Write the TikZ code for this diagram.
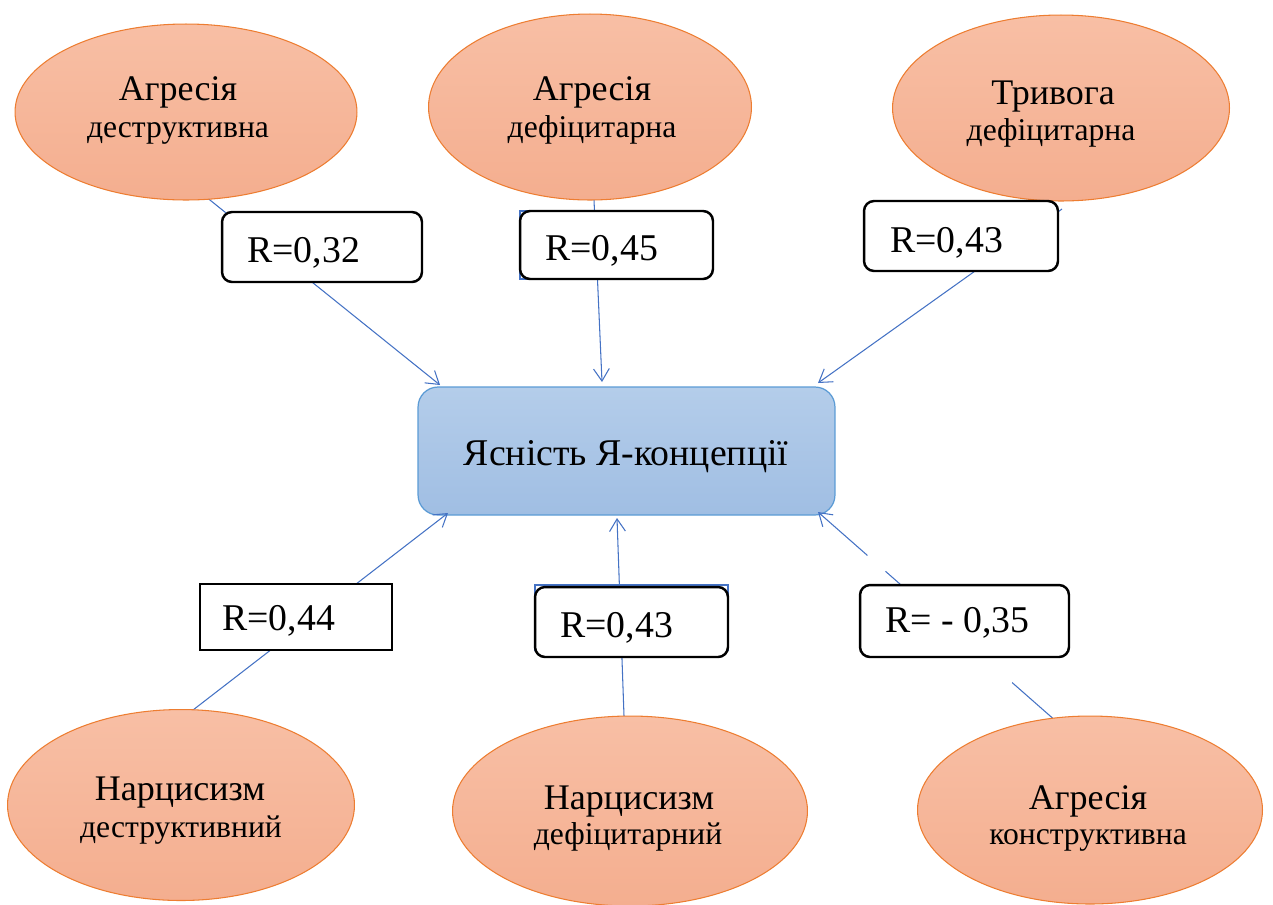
\documentclass[tikz,border=0pt]{standalone}
\usepackage{fontspec}
\setmainfont{Liberation Serif}
\usetikzlibrary{shapes.geometric,arrows.meta}
\definecolor{elfillT}{HTML}{F8BFA5}
\definecolor{elfillB}{HTML}{F4AE8F}
\definecolor{elline}{HTML}{ED7D31}
\definecolor{cfillT}{HTML}{B4CDEA}
\definecolor{cfillB}{HTML}{A0BEE3}
\definecolor{cline}{HTML}{5B9BD5}
\definecolor{conn}{HTML}{4472C4}
\begin{document}
\begin{tikzpicture}[x=0.02cm,y=-0.02cm,
  oval/.style={ellipse,draw=elline,line width=0.6pt,top color=elfillT,bottom color=elfillB,inner sep=0pt},
  bigtxt/.style={anchor=base,font=\fontsize{20.5}{24}\selectfont,inner sep=0pt},
  smalltxt/.style={anchor=base,font=\fontsize{18}{21}\selectfont,inner sep=0pt},
  rbox/.style={draw=black,line width=1.4pt,fill=white,rounded corners=0.2cm,inner sep=0pt},
  sbox/.style={draw=black,line width=1.4pt,fill=white,inner sep=0pt},
  bluebg/.style={draw=conn,line width=0.9pt,fill=white,inner sep=0pt},
  rtext/.style={anchor=base west,font=\fontsize{21.5}{25}\selectfont,inner sep=0pt},
  centerbox/.style={draw=cline,line width=0.7pt,top color=cfillT,bottom color=cfillB,rounded corners=0.4cm,inner sep=0pt},
  link/.style={draw=conn,line width=0.6pt,-{Straight Barb[length=7pt,width=9pt,line width=0.6pt]}},
]
\useasboundingbox (0,0) rectangle (1273,904);

% central box
\node[centerbox,minimum width=8.34cm,minimum height=2.56cm] (c) at (626.5,451) {};
\node[anchor=base,font=\fontsize{21.5}{26}\selectfont,inner sep=0pt] (ct) at (626,465) {Ясність Я-концепції};

% connector end points
\coordinate (s1) at (200,192);   \coordinate (t1) at (440,385);
\coordinate (s2) at (594,200);   \coordinate (t2) at (602,382);
\coordinate (s3) at (1062,209);  \coordinate (t3) at (818,383);
\coordinate (s4) at (193,710);   \coordinate (t4) at (448,513);
\coordinate (s5) at (624,716);   \coordinate (t5) at (617,518);
\coordinate (s6) at (1057,722);  \coordinate (t6) at (818,512);

\draw[link] (s1) -- (t1);
\draw[link] (s2) -- (t2);
\draw[link] (s3) -- (t3);
\draw[link] (s4) -- (t4);
\draw[link] (s5) -- (t5);
\draw[link,dash pattern=on 34pt off 84pt on 11.95pt off 13.66pt on 100pt off 100pt] (s6) -- (t6);

% ellipses
\node[oval,minimum width=6.84cm,minimum height=3.52cm] (e1) at (186,112) {};
\node[oval,minimum width=6.46cm,minimum height=3.72cm] (e2) at (590,107) {};
\node[oval,minimum width=6.74cm,minimum height=3.72cm] (e3) at (1061,108) {};
\node[oval,minimum width=6.94cm,minimum height=3.82cm] (e4) at (181,805) {};
\node[oval,minimum width=7.10cm,minimum height=3.80cm] (e5) at (630,811) {};
\node[oval,minimum width=6.90cm,minimum height=3.76cm] (e6) at (1090,810) {};

\node[bigtxt] (e1a) at (178,100) {Агресія};
\node[smalltxt] (e1b) at (178,137) {деструктивна};
\node[bigtxt] (e2a) at (592,100) {Агресія};
\node[smalltxt] (e2b) at (592,137) {дефіцитарна};
\node[bigtxt] (e3a) at (1053,104) {Тривога};
\node[smalltxt] (e3b) at (1051,140) {дефіцитарна};
\node[bigtxt] (e4a) at (180,800) {Нарцисизм};
\node[smalltxt] (e4b) at (181,837) {деструктивний};
\node[bigtxt] (e5a) at (629,809) {Нарцисизм};
\node[smalltxt] (e5b) at (628,844) {дефіцитарний};
\node[bigtxt] (e6a) at (1088,809) {Агресія};
\node[smalltxt] (e6b) at (1088,844) {конструктивна};

% R boxes
\node[rbox,minimum width=4cm,minimum height=1.4cm] (b1) at (322,247) {};
\node[bluebg,minimum width=3.70cm,minimum height=1.36cm] (b2bg) at (612.5,245) {};
\node[rbox,minimum width=3.86cm,minimum height=1.36cm] (b2) at (616.5,245) {};
\node[rbox,minimum width=3.88cm,minimum height=1.4cm] (b3) at (961,236) {};
\node[sbox,minimum width=3.84cm,minimum height=1.32cm] (b4) at (296,617) {};
\node[bluebg,minimum width=3.86cm,minimum height=1.3cm] (b5bg) at (631.5,617.5) {};
\node[rbox,minimum width=3.86cm,minimum height=1.4cm] (b5) at (631.5,622) {};
\node[rbox,minimum width=4.18cm,minimum height=1.44cm] (b6) at (964.5,621) {};

\node[rtext] (r1) at (247,262) {R=0,32};
\node[rtext] (r2) at (545,260) {R=0,45};
\node[rtext] (r3) at (890,252) {R=0,43};
\node[rtext] (r4) at (222,630) {R=0,44};
\node[rtext] (r5) at (560,637) {R=0,43};
\node[rtext] (r6) at (885,632) {R= - 0,35};
\end{tikzpicture}
\end{document}
